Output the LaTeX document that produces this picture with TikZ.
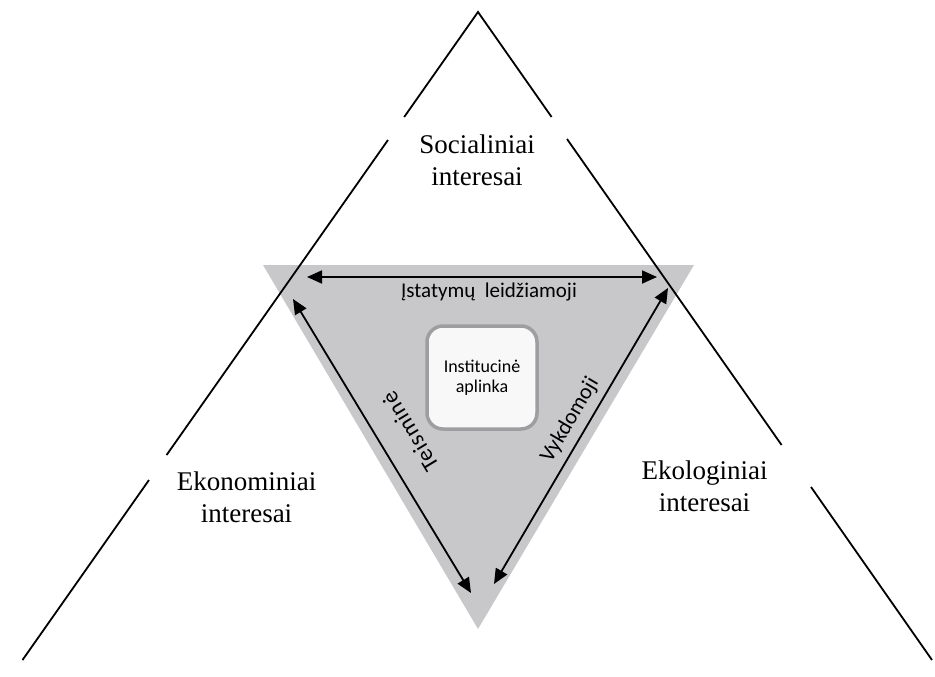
\documentclass[tikz,border=0pt]{standalone}
\usepackage{fontspec}
\setmainfont{Liberation Serif}
\newfontfamily\labelfont{Carlito}
\usetikzlibrary{arrows.meta}
\definecolor{triGray}{HTML}{C8C8CA}
\definecolor{boxBorder}{HTML}{9E9EA0}
\definecolor{boxFill}{HTML}{F8F8F8}
\begin{document}
\begin{tikzpicture}[x=1pt,y=-1pt,
  side/.style={line width=1.8pt, black, line join=miter},
  dbl/.style={line width=1.8pt, black,
    {Triangle[length=15pt,width=13pt]}-{Triangle[length=15pt,width=13pt]}},
  interest/.style={font=\fontsize{27}{32}\selectfont, align=center, inner sep=0pt},
  branch/.style={font=\labelfont\fontsize{21}{25}\selectfont, inner sep=0pt},
  instbox/.style={draw=boxBorder, fill=boxFill, line width=3.5pt, rounded corners=16pt,
    minimum width=110pt, minimum height=103pt, align=center,
    font=\labelfont\fontsize{18}{20}\selectfont},
]
\useasboundingbox (0,0) rectangle (935,677);
% grey inner triangle
\fill[triGray] (263,265) -- (694,265) -- (478,629) -- cycle;
% big triangle (sides broken where the labels sit)
\coordinate (A) at (478,12);
\draw[side] (404.2,117) -- (A) -- (551.6,117);
\draw[side] (388,140) -- (166.6,455);
\draw[side] (149,480) -- (22.5,660);
\draw[side] (567,139) -- (781.6,445);
\draw[side] (811,487) -- (932,660);
% interest labels
\node[interest] (soc) at (477,160) {Socialiniai\\interesai};
\node[interest] (eko) at (246.5,497) {Ekonominiai\\interesai};
\node[interest] (ekl) at (704.5,486) {Ekologiniai\\interesai};
% institutional environment
\node[instbox] (inst) at (482,377.5) {Institucinė\\aplinka};
% arrows between the branches
\coordinate (tl) at (307,277);
\coordinate (tr) at (657,277);
\coordinate (lt) at (293,299);
\coordinate (lb) at (471,593);
\coordinate (rt) at (668,288);
\coordinate (rb) at (494,584);
\draw[dbl] (tl) -- (tr);
\draw[dbl] (lt) -- (lb);
\draw[dbl] (rt) -- (rb);
\node[branch, anchor=base] (leg) at (489,297) {Įstatymų\ \ leidžiamoji};
\node[branch, rotate=121.2, font=\labelfont\fontsize{23}{26}\selectfont\addfontfeatures{LetterSpace=4}] (tei) at (410,432) {Teisminė};
\node[branch, rotate=59.5, font=\labelfont\fontsize{22}{26}\selectfont] (vyk) at (570,420) {Vykdomoji};
\end{tikzpicture}
\end{document}
